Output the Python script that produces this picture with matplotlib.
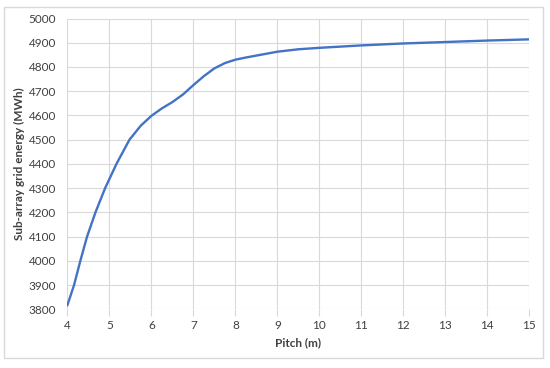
import matplotlib
matplotlib.use("Agg")
import matplotlib.pyplot as plt
from matplotlib.patches import Rectangle

# values
pitch = [4.0, 4.16, 4.31, 4.47, 4.67, 4.9, 5.17, 5.48, 5.75, 6.0, 6.25, 6.5, 6.75,
         7.0, 7.25, 7.5, 7.75, 8.0, 8.25, 8.5, 9.0, 9.5, 10.0, 11.0, 12.0, 13.0,
         14.0, 15.0]
energy = [3816, 3900, 4000, 4100, 4200, 4300, 4400, 4500, 4558, 4598, 4629, 4655,
          4686, 4725, 4762, 4794, 4816, 4830, 4839, 4847, 4863, 4873, 4879, 4889,
          4897, 4903, 4909, 4914]

x_ticks = list(range(4, 16))
y_ticks = list(range(3800, 5001, 100))

plt.rcParams['font.family'] = ['Lato', 'DejaVu Sans']

fig = plt.figure(figsize=(5.5, 3.68), dpi=100)
ax = fig.add_axes([0.1224, 0.1595, 0.84, 0.7902])

ax.plot(pitch, energy, color='#4472C4', lw=1.7, solid_capstyle='round',
        solid_joinstyle='round')

ax.set_xlim(4, 15)
ax.set_ylim(3800, 5000)
ax.set_xticks(x_ticks)
ax.set_yticks(y_ticks)
ax.grid(True, color='#d9d9d9', lw=0.8)
ax.set_axisbelow(True)
for s in ax.spines.values():
    s.set_visible(False)
ax.tick_params(axis='x', length=5, color='#d9d9d9', width=0.8, labelsize=8.5,
               labelcolor='#404040', pad=3)
ax.tick_params(axis='y', length=0, labelsize=8.5, labelcolor='#404040', pad=8)

ax.set_xlabel('Pitch (m)', fontsize=8.5, fontweight='bold', color='#404040')
ax.set_ylabel('Sub-array grid energy (MWh)', fontsize=8.5, fontweight='bold',
              color='#404040')
ax.xaxis.set_label_coords(0.5, -0.097)
ax.yaxis.set_label_coords(-0.092, 0.5)

# outer chart border
fig.patches.append(Rectangle((4 / 550, 1 - 358 / 368), 539 / 550, 351 / 368,
                             transform=fig.transFigure, fill=False,
                             edgecolor='#d9d9d9', lw=1))

fig.savefig('out.png', dpi=100)
